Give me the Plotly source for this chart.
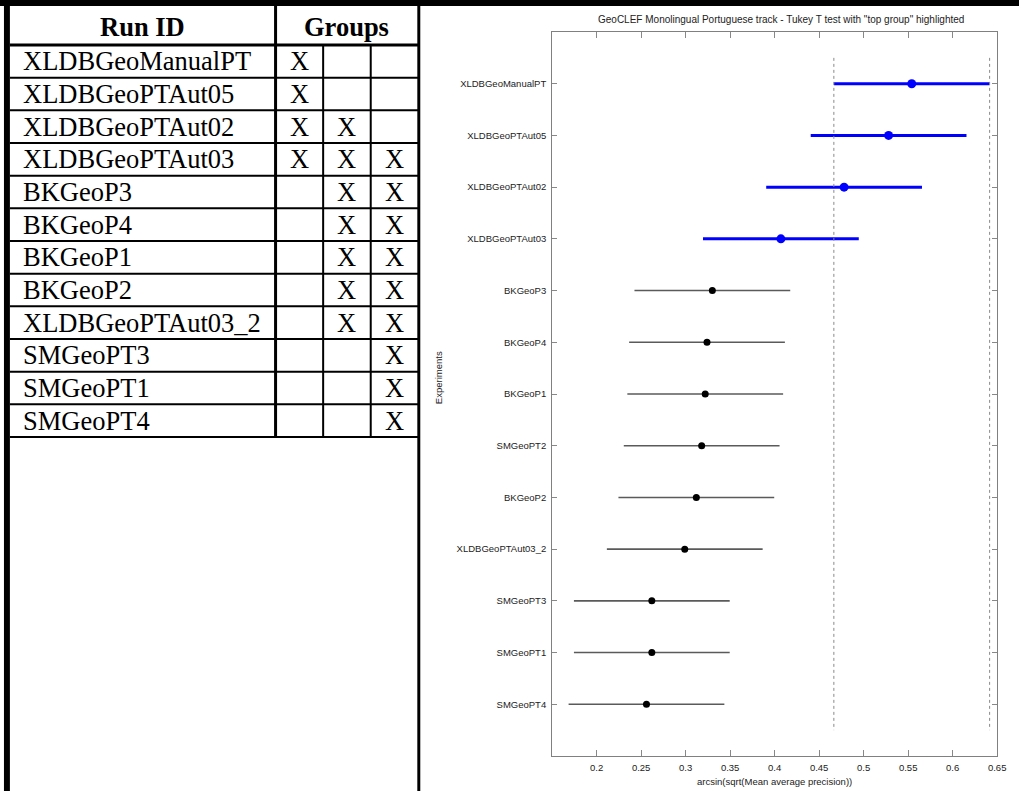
import plotly.graph_objects as go

# ---------------- data: table ----------------
RUN_IDS = ["XLDBGeoManualPT", "XLDBGeoPTAut05", "XLDBGeoPTAut02", "XLDBGeoPTAut03",
           "BKGeoP3", "BKGeoP4", "BKGeoP1", "BKGeoP2", "XLDBGeoPTAut03_2",
           "SMGeoPT3", "SMGeoPT1", "SMGeoPT4"]
GROUP_1 = [1, 1, 1, 1, 0, 0, 0, 0, 0, 0, 0, 0]
GROUP_2 = [0, 0, 1, 1, 1, 1, 1, 1, 1, 0, 0, 0]
GROUP_3 = [0, 0, 0, 1, 1, 1, 1, 1, 1, 1, 1, 1]
HEADER_RUN = "Run ID"
HEADER_GROUPS = "Groups"

# ---------------- data: Tukey plot ----------------
EXPERIMENTS = ["XLDBGeoManualPT", "XLDBGeoPTAut05", "XLDBGeoPTAut02", "XLDBGeoPTAut03",
               "BKGeoP3", "BKGeoP4", "BKGeoP1", "SMGeoPT2", "BKGeoP2",
               "XLDBGeoPTAut03_2", "SMGeoPT3", "SMGeoPT1", "SMGeoPT4"]
MEANS = [0.554, 0.528, 0.478, 0.407, 0.330, 0.324, 0.322, 0.318, 0.312,
         0.299, 0.262, 0.262, 0.256]
HALF_WIDTH = 0.0875
TOP_GROUP = [1, 1, 1, 1, 0, 0, 0, 0, 0, 0, 0, 0, 0]
X_TICKS = [0.2, 0.25, 0.3, 0.35, 0.4, 0.45, 0.5, 0.55, 0.6, 0.65]
X_TICK_TEXT = ["0.2", "0.25", "0.3", "0.35", "0.4", "0.45", "0.5", "0.55", "0.6", "0.65"]

TITLE = 'GeoCLEF Monolingual Portuguese track - Tukey T test with "top group" highlighted'
X_TITLE = "arcsin(sqrt(Mean average precision))"
Y_TITLE = "Experiments"

# ---------------- layout constants (pixels) ----------------
W, H = 1028, 791
PLOT_L, PLOT_R, PLOT_T, PLOT_B = 557, 1006, 32, 756
TABLE_W = 430
COL_EDGES = [10, 278, 326, 374, 422]
HEAD_TOP, HEAD_BOT = 6, 45
ROW_H = 32.67

SERIF = "Liberation Serif"
SANS = "Liberation Sans"
BLUE = "#0000FF"

fig = go.Figure()

# ---------- Tukey plot ----------
ypos = list(range(1, len(EXPERIMENTS) + 1))
top_idx = [i for i, t in enumerate(TOP_GROUP) if t]
oth_idx = [i for i, t in enumerate(TOP_GROUP) if not t]

fig.add_trace(go.Scatter(
    x=[MEANS[i] for i in oth_idx], y=[ypos[i] for i in oth_idx],
    mode="markers",
    marker=dict(color="black", size=7),
    error_x=dict(type="constant", value=HALF_WIDTH, color="#5a5a5a",
                 thickness=1.6, width=0),
    xaxis="x", yaxis="y", showlegend=False, hoverinfo="skip"))
fig.add_trace(go.Scatter(
    x=[MEANS[i] for i in top_idx], y=[ypos[i] for i in top_idx],
    mode="markers",
    marker=dict(color=BLUE, size=9),
    error_x=dict(type="constant", value=HALF_WIDTH, color=BLUE,
                 thickness=3, width=0),
    xaxis="x", yaxis="y", showlegend=False, hoverinfo="skip"))

# dotted reference lines = interval of the best run
lo = MEANS[0] - HALF_WIDTH
hi = MEANS[0] + HALF_WIDTH
shapes = []
for xv in (lo, hi):
    shapes.append(dict(type="line", xref="x", yref="y", x0=xv, x1=xv,
                       y0=0.5, y1=len(EXPERIMENTS) + 0.5,
                       line=dict(color="#8a8a8a", width=1, dash="dot")))

# ---------- table (pixel-unit axes x2/y2) ----------
def line(x0, y0, x1, y1, w):
    return dict(type="line", xref="x2", yref="y2", x0=x0, y0=y0, x1=x1, y1=y1,
                line=dict(color="black", width=w))

def rect(x0, y0, x1, y1):
    return dict(type="rect", xref="x2", yref="y2", x0=x0, y0=y0, x1=x1, y1=y1,
                line=dict(width=0), fillcolor="black")

n_rows = len(RUN_IDS)
table_bottom = HEAD_BOT + n_rows * ROW_H
shapes.append(rect(4, 0, 10, H))                       # left thick border
shapes.append(rect(421, 0, 424, H))                    # right table border
shapes.append(dict(type="rect", xref="paper", yref="paper", x0=0, x1=1,
                   y0=1 - 6 / H, y1=1, line=dict(width=0), fillcolor="black"))
shapes.append(line(COL_EDGES[0], HEAD_BOT, COL_EDGES[-1], HEAD_BOT, 3))
for k in range(1, n_rows + 1):
    yy = HEAD_BOT + k * ROW_H
    shapes.append(line(COL_EDGES[0], yy, COL_EDGES[-1], yy, 2))
shapes.append(line(COL_EDGES[1], HEAD_TOP, COL_EDGES[1], table_bottom, 3))
for cx in COL_EDGES[2:4]:
    shapes.append(line(cx, HEAD_BOT, cx, table_bottom, 2))

ann = []
ann.append(dict(xref="x2", yref="y2", x=(COL_EDGES[0] + COL_EDGES[1]) / 2,
                y=(HEAD_TOP + HEAD_BOT) / 2 + 1, text="<b>" + HEADER_RUN + "</b>",
                showarrow=False, xanchor="center",
                font=dict(family=SERIF, size=26.5, color="black")))
ann.append(dict(xref="x2", yref="y2", x=(COL_EDGES[1] + COL_EDGES[4]) / 2,
                y=(HEAD_TOP + HEAD_BOT) / 2 + 1, text="<b>" + HEADER_GROUPS + "</b>",
                showarrow=False, xanchor="center",
                font=dict(family=SERIF, size=26.5, color="black")))
groups = [GROUP_1, GROUP_2, GROUP_3]
for i, rid in enumerate(RUN_IDS):
    yc = HEAD_BOT + (i + 0.5) * ROW_H
    ann.append(dict(xref="x2", yref="y2", x=COL_EDGES[0] + 11, y=yc, text=rid,
                    xanchor="left", showarrow=False,
                    font=dict(family=SERIF, size=26.5, color="black")))
    for g, grp in enumerate(groups):
        if grp[i]:
            ann.append(dict(xref="x2", yref="y2",
                            x=(COL_EDGES[g + 1] + COL_EDGES[g + 2]) / 2, y=yc,
                            text="X", showarrow=False, xanchor="center",
                            font=dict(family=SERIF, size=26.5, color="black")))

# plot texts
ann.append(dict(xref="paper", yref="paper", x=(PLOT_L + PLOT_R) / 2 / W + 0.006,
                y=1 - 20 / H, text=TITLE, showarrow=False, xanchor="center",
                yanchor="middle", font=dict(family=SANS, size=10, color="#222")))
ann.append(dict(xref="paper", yref="paper", x=(PLOT_L + PLOT_R) / 2 / W,
                y=1 - 781 / H, text=X_TITLE, showarrow=False, xanchor="center",
                yanchor="middle", font=dict(family=SANS, size=9.5, color="#222")))
ann.append(dict(xref="paper", yref="paper", x=442 / W, y=1 - 378 / H,
                text=Y_TITLE, showarrow=False, textangle=-90, xanchor="center",
                yanchor="middle", font=dict(family=SANS, size=9.5, color="#222")))

fig.update_layout(
    width=W, height=H, margin=dict(l=0, r=0, t=0, b=0),
    paper_bgcolor="white", plot_bgcolor="white", showlegend=False,
    xaxis=dict(domain=[PLOT_L / W, PLOT_R / W], range=[0.15, 0.65],
               tickvals=X_TICKS, ticktext=X_TICK_TEXT, ticks="inside",
               ticklen=6, tickcolor="#888", mirror="ticks", showline=True,
               linecolor="#808080", linewidth=1, showgrid=False, zeroline=False,
               ticklabelstandoff=3,
               tickfont=dict(family=SANS, size=9.5, color="#222"), anchor="y"),
    yaxis=dict(domain=[1 - PLOT_B / H, 1 - PLOT_T / H],
               range=[len(EXPERIMENTS) + 1, 0], tickvals=ypos,
               ticktext=EXPERIMENTS, ticks="inside", ticklen=5,
               tickcolor="#888", mirror="ticks", showline=True,
               linecolor="#808080", linewidth=1, showgrid=False,
               zeroline=False, ticklabelstandoff=3,
               tickfont=dict(family=SANS, size=9.5, color="#222"), anchor="x"),
    xaxis2=dict(domain=[0, TABLE_W / W], range=[0, TABLE_W], visible=False,
                anchor="y2", fixedrange=True),
    yaxis2=dict(domain=[0, 1], range=[H, 0], visible=False, anchor="x2",
                fixedrange=True),
    shapes=shapes, annotations=ann,
)

fig.write_html("out.html", config={"displayModeBar": False},
               post_script="document.body.style.margin='0';"
                           "document.body.style.overflow='hidden';")
